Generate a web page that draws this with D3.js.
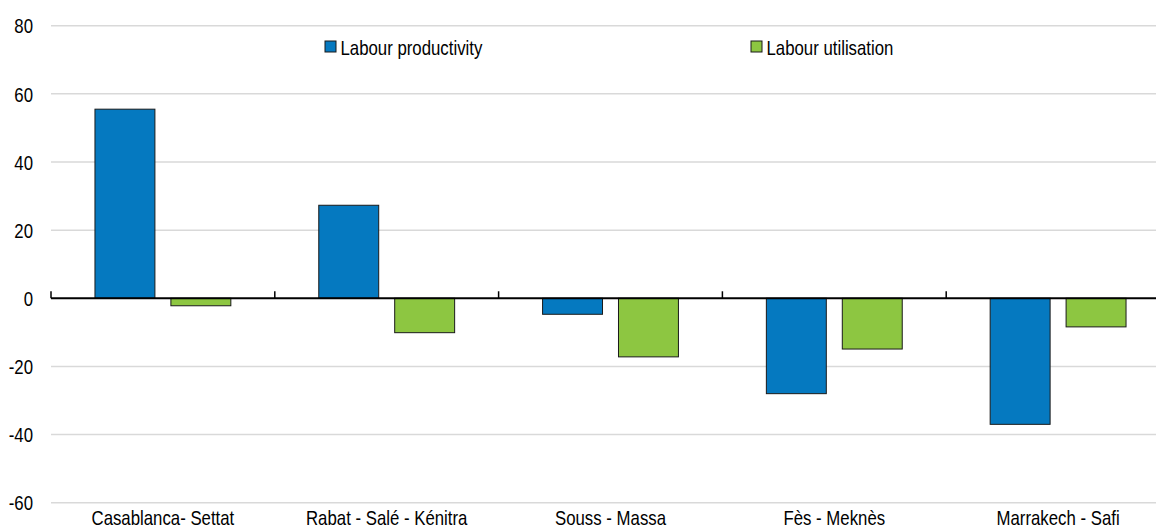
<!DOCTYPE html>
<html>
<head>
<meta charset="utf-8">
<script src="https://cdn.jsdelivr.net/npm/d3@7"></script>
<style>
  html, body { margin: 0; padding: 0; background: #fff; }
  svg { display: block; }
  text { font-family: "Liberation Sans", Arial, sans-serif; fill: #000; }
</style>
</head>
<body>
<svg id="chart" width="1156" height="530"></svg>
<script>
const categories = ["Casablanca- Settat", "Rabat - Salé - Kénitra", "Souss - Massa", "Fès - Meknès", "Marrakech - Safi"];
const seriesNames = ["Labour productivity", "Labour utilisation"];
const productivity = [55.5, 27.3, -4.7, -28.0, -37.0];
const utilisation = [-2.2, -10.1, -17.2, -14.9, -8.4];
const yTicks = [-60, -40, -20, 0, 20, 40, 60, 80];
const colors = ["#0579c0", "#8dc641"];

const FS = 20, SX = 0.84;
const svg = d3.select("#chart");
const x0 = 51, x1 = 1170;
const y = d3.scaleLinear().domain([-60, 80]).range([502.7, 25.7]);
const xBand = d3.scaleBand().domain(categories).range([x0, x1]).paddingInner(0).paddingOuter(0);
const inner = d3.scaleBand().domain(seriesNames).range([0, xBand.bandwidth()]).paddingInner(0.2105).paddingOuter(0.579);

// gridlines
svg.append("g").selectAll("line").data(yTicks.filter(d => d !== 0)).join("line")
  .attr("x1", x0).attr("x2", x1)
  .attr("y1", d => y(d)).attr("y2", d => y(d))
  .attr("stroke", "#d9d9d9").attr("stroke-width", 1.5);

// y axis labels
const yAxis = d3.axisLeft(y).tickValues(yTicks).tickSize(0).tickPadding(0).tickFormat(d => String(d));
const yg = svg.append("g").attr("transform", "translate(33,0)").call(yAxis);
yg.select(".domain").remove();
yg.selectAll("text").attr("font-size", FS).attr("font-family", null).attr("x", 0)
  .attr("dy", "0.36em").attr("transform", `scale(${SX},1)`);

// bars
const data = [];
categories.forEach((c, i) => {
  data.push({ c, s: seriesNames[0], v: productivity[i] });
  data.push({ c, s: seriesNames[1], v: utilisation[i] });
});
svg.append("g").selectAll("rect").data(data).join("rect")
  .attr("x", d => xBand(d.c) + inner(d.s))
  .attr("width", inner.bandwidth())
  .attr("y", d => y(Math.max(0, d.v)))
  .attr("height", d => Math.abs(y(d.v) - y(0)))
  .attr("fill", d => colors[seriesNames.indexOf(d.s)])
  .attr("stroke", "#1a1a1a").attr("stroke-width", 1);

// zero axis
svg.append("line").attr("x1", x0).attr("x2", x1).attr("y1", y(0)).attr("y2", y(0))
  .attr("stroke", "#000").attr("stroke-width", 2);
// category separators
const seps = categories.map(c => xBand(c));
svg.append("g").selectAll("line").data(seps).join("line")
  .attr("x1", d => d).attr("x2", d => d)
  .attr("y1", y(0)).attr("y2", y(0) - 7)
  .attr("stroke", "#000").attr("stroke-width", 1.5);

// x labels
svg.append("g").selectAll("text").data(categories).join("text")
  .attr("transform", d => `translate(${xBand(d) + xBand.bandwidth() / 2},525) scale(${SX},1)`)
  .attr("text-anchor", "middle")
  .attr("font-size", FS)
  .text(d => d);

// legend
const legendX = [325, 751];
const lg = svg.append("g").selectAll("g").data(seriesNames).join("g")
  .attr("transform", (d, i) => `translate(${legendX[i]},41)`);
lg.append("rect").attr("width", 11).attr("height", 11)
  .attr("fill", (d, i) => colors[i]).attr("stroke", "#1a1a1a").attr("stroke-width", 1);
lg.append("text").attr("transform", `translate(15.5,13.5) scale(${SX},1)`).attr("font-size", FS).text(d => d);
</script>
</body>
</html>
